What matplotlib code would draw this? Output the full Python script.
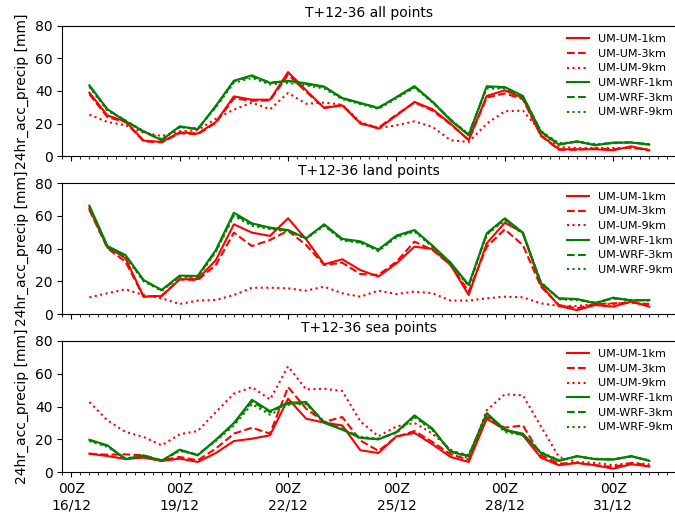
import matplotlib
matplotlib.use("Agg")
import matplotlib.pyplot as plt
import matplotlib.dates as mdates
import pandas as pd
import numpy as np

times = pd.date_range("2018-12-16 12:00", periods=32, freq="12h")

titles = ["T+12-36 all points", "T+12-36 land points", "T+12-36 sea points"]
labels = ["UM-UM-1km", "UM-UM-3km", "UM-UM-9km", "UM-WRF-1km", "UM-WRF-3km", "UM-WRF-9km"]

# --- all points ---
all_um1 = [39, 25, 21.4, 9.6, 8.8, 14.7, 13.9, 21, 36.7, 34.7, 34.7, 51.6, 40.4, 29.6, 31.2, 20.4,
           17, 25, 33.3, 28.8, 20, 9.8, 37, 40.4, 35.7, 12.9, 4.3, 4.3, 4.3, 3.7, 6.1, 3.7]
all_um3 = [38, 24, 21, 9.2, 8.5, 14.2, 13.5, 20.5, 35.5, 34, 34.2, 50, 39.5, 29.8, 31.5, 20,
           17.5, 25.5, 33, 28, 19.5, 10.2, 36, 38.5, 35, 12.5, 4.0, 4.0, 4.8, 4.2, 5.5, 3.5]
all_um9 = [25.5, 21, 19, 14.5, 12.4, 15.3, 16, 23, 28.6, 32.9, 28.8, 38.8, 32.2, 32.9, 31.6, 21,
           17.3, 19, 21.4, 18, 9.8, 8.8, 20, 27.6, 28, 14.9, 5.7, 5.1, 5.1, 5.1, 5.1, 4.3]
all_wrf1 = [43.5, 28.8, 21.6, 15.3, 9.8, 18.4, 16.5, 31, 46.3, 49.6, 44.9, 46.3, 44.7, 42.7, 35.7, 32.7,
            29.6, 36.3, 43, 33.3, 22, 12.9, 42.9, 42.4, 37, 14.9, 7.1, 9.2, 6.7, 8.4, 8.4, 7.1]
all_wrf3 = [43, 28.5, 21.8, 15, 10.2, 18, 16.8, 30.5, 46, 49, 45.2, 46, 44.2, 42.5, 35.5, 32.5,
            29.8, 36, 42.6, 33.5, 22.4, 13.2, 42.5, 42, 36.6, 15.2, 7.4, 9, 7, 8.2, 8.6, 7.3]
all_wrf9 = [42.5, 28, 22, 15.5, 10.5, 17.8, 17, 30, 45, 48, 44, 45, 43.5, 41.5, 35, 32,
            29, 35.5, 42, 33, 22.5, 13.5, 41.5, 41.5, 36, 15.5, 8, 8.8, 7.5, 8, 8.5, 7.5]

# --- land points ---
land_um1 = [64.3, 41.2, 34.1, 10.6, 11, 21.2, 21.4, 33, 54.9, 49.8, 47.8, 58.6, 45.7, 30.4, 33.5, 26.9,
            22.9, 31, 41.2, 39.8, 30, 11.6, 43.3, 55.9, 49.8, 17.8, 4.9, 2.4, 5.5, 4.5, 7.6, 4.5]
land_um3 = [63.7, 40.2, 32, 10.6, 11.2, 21.2, 20.8, 30, 49.8, 41.6, 45.3, 51, 42.2, 30, 31.4, 24.5,
            23.9, 32, 44.3, 39.2, 30, 13.7, 41.2, 51.8, 42.2, 16.7, 5.5, 3.5, 6.1, 6.5, 6.9, 6.1]
land_um9 = [10.2, 12.7, 15.1, 11.6, 9.6, 6.1, 8.2, 8.6, 11.6, 16.1, 16.1, 15.7, 14.3, 16.7, 12.7, 10.6,
            14.3, 12.2, 13.7, 12.7, 8.2, 8.2, 9.6, 10.6, 10.2, 6.5, 4.9, 4.9, 6.1, 6.1, 7.6, 4.9]
land_wrf1 = [66.3, 41.6, 36.1, 20.8, 14.7, 23.5, 23.3, 39.2, 62, 55.5, 52.9, 51.4, 46.3, 54.9, 46, 44.5,
             39.4, 48, 51.4, 41.8, 31.4, 17.8, 49.4, 58.6, 49.8, 18.8, 9.6, 9.2, 6.5, 10, 8.2, 8.6]
land_wrf3 = [65.8, 41, 35.5, 20.5, 14.5, 23, 23, 38.5, 61, 55, 52.5, 51, 46.5, 54.5, 45.5, 44,
             39, 47.5, 51, 41.5, 31, 17.5, 49, 58, 49.5, 19, 9.4, 9, 6.8, 9.7, 8.4, 8.4]
land_wrf9 = [65.5, 40.5, 35, 20, 14.2, 22.8, 22.5, 38, 60, 54, 52, 50.5, 46, 54, 45, 43.5,
             38.5, 47, 50.5, 41, 30.5, 17, 48.5, 57.5, 49, 19.5, 9, 8.5, 7, 9.5, 8.5, 8.2]

# --- sea points ---
sea_um1 = [11.3, 9.9, 8.1, 8.9, 6.9, 8.3, 6.3, 11.7, 19, 20.4, 22.5, 44.7, 32.6, 30.2, 28.5, 13.4,
           11.7, 21.9, 23.9, 17, 9.3, 6.3, 32.6, 25.9, 22.5, 8.9, 4.3, 5.7, 4.3, 2.2, 4.9, 3.6]
sea_um3 = [11.3, 10.7, 10.9, 10.3, 7.3, 9.3, 7.3, 14.4, 23.5, 27.1, 23.5, 51.8, 38.7, 30.6, 33.6, 19.4,
           13, 21.5, 25.1, 18.4, 10.9, 7.7, 33.6, 27.1, 28.5, 10.3, 5.3, 5.7, 4.3, 3.2, 5.7, 4.3]
sea_um9 = [42.7, 31.6, 24.5, 21.5, 16.4, 23.1, 25.1, 36.6, 47.8, 51.8, 44.3, 64.4, 50.4, 50.8, 49.4, 31,
           21.9, 27.9, 30, 23.5, 13.8, 8.3, 37.7, 47.4, 46.8, 27.9, 9.3, 6.3, 5.7, 4.3, 5.7, 4.9]
sea_wrf1 = [19.8, 16.4, 7.9, 10.3, 6.9, 13.8, 10.3, 19.8, 30, 44.1, 37.2, 42.3, 42.7, 30, 25.9, 20.9,
            20, 24.5, 34.6, 26.5, 12.3, 9.9, 36, 25.9, 23.5, 11.7, 6.9, 9.9, 7.9, 7.7, 9.9, 6.9]
sea_wrf3 = [19.5, 16, 8.2, 10, 7, 13.5, 10.5, 19.5, 29.5, 43, 36.5, 41.8, 42, 30.5, 26.2, 21.2,
            20.2, 24.2, 34, 26, 12.6, 10.1, 35.5, 25.5, 23, 12, 7.2, 9.7, 8.1, 7.9, 9.7, 7.1]
sea_wrf9 = [19, 15.5, 8.5, 9.8, 7.2, 13, 10.8, 19, 28.5, 41.5, 35, 41, 41.5, 31, 26.5, 21.5,
            20.5, 24, 33.5, 25.5, 13, 10.5, 35, 24.5, 22.5, 12.3, 7.5, 9.5, 8.3, 8, 9.5, 7.4]

tick_dates = ["2018-12-16", "2018-12-19", "2018-12-22", "2018-12-25", "2018-12-28", "2018-12-31"]
tick_labels = ["00Z\n16/12", "00Z\n19/12", "00Z\n22/12", "00Z\n25/12", "00Z\n28/12", "00Z\n31/12"]
yticks = [0, 20, 40, 60, 80]

panels = [
    [all_um1, all_um3, all_um9, all_wrf1, all_wrf3, all_wrf9],
    [land_um1, land_um3, land_um9, land_wrf1, land_wrf3, land_wrf9],
    [sea_um1, sea_um3, sea_um9, sea_wrf1, sea_wrf3, sea_wrf9],
]
colors = ["red", "red", "red", "green", "green", "green"]
styles = ["-", "--", ":", "-", "--", ":"]

fig = plt.figure(figsize=(6.75, 5.12), dpi=100)
left = 62.3 / 675
width = (676.4 - 62.3) / 675
tops = [25.7, 183.3, 340.7]
bottoms = [156.3, 314.0, 472.3]

xmin = mdates.date2num(pd.Timestamp("2018-12-15 18:00"))
xmax = mdates.date2num(pd.Timestamp("2019-01-01 18:00"))
tick_nums = [mdates.date2num(pd.Timestamp(d)) for d in tick_dates]
tnum = mdates.date2num(times)

for k, (series, title) in enumerate(zip(panels, titles)):
    b = 1 - bottoms[k] / 512
    h = (bottoms[k] - tops[k]) / 512
    ax = fig.add_axes([left, b, width, h])
    for vals, c, ls, lab in zip(series, colors, styles, labels):
        ax.plot(tnum, vals, color=c, linestyle=ls, linewidth=1.5, label=lab)
    ax.set_xlim(xmin, xmax)
    ax.set_ylim(0, 80)
    ax.set_yticks(yticks)
    ax.set_title(title, fontsize=10)
    ax.set_ylabel("24hr_acc_precip [mm]", fontsize=10)
    ax.xaxis.set_minor_locator(mdates.HourLocator(byhour=[0, 6, 12, 18]))
    if k == 2:
        ax.set_xticks(tick_nums, tick_labels)
    else:
        ax.set_xticks(tick_nums, [""] * len(tick_nums))
    ax.tick_params(labelsize=10)
    ax.legend(loc="upper right", fontsize=8, frameon=False,
              bbox_to_anchor=(1.011, 1.012), labelspacing=0.42)

fig.savefig("out.png", dpi=100)
